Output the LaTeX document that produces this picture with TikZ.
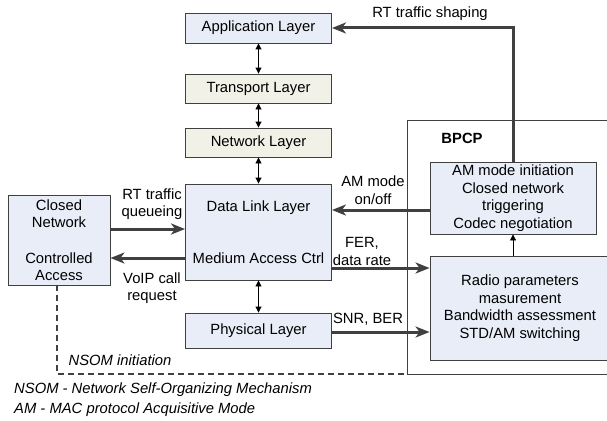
\documentclass[tikz,border=0pt]{standalone}
\usepackage{fontspec}
\setmainfont{Liberation Sans}
\usetikzlibrary{arrows.meta}
\definecolor{boxblue}{HTML}{E8EDF7}
\definecolor{boxbeige}{HTML}{F1F1E8}
\definecolor{linegray}{HTML}{404040}
\tikzset{
  layerbox/.style={draw=linegray, line width=0.9pt, fill=boxblue, minimum width=146pt, inner sep=0pt, align=center},
  bigarrow/.style={draw=linegray, line width=3pt, -{Stealth[length=14pt,width=11pt,inset=4pt]}},
  dblarrow/.style={draw=black, line width=0.9pt, {Triangle[length=6pt,width=6pt]}-{Triangle[length=6pt,width=6pt]}},
  onearrow/.style={draw=black, line width=0.9pt, -{Triangle[length=6pt,width=6pt]}},
  lbl/.style={align=center, inner sep=0pt},
  nsomline/.style={draw=linegray, line width=1.2pt, dash pattern=on 6pt off 4pt},
  frame/.style={draw=linegray, line width=0.9pt}
}
\begin{document}
\begin{tikzpicture}[x=1pt, y=-1pt, font=\fontsize{14.8}{17.5}\selectfont]
\clip (0,0) rectangle (607,420);
\fill[white] (0,0) rectangle (607,420);
% BPCP frame
\coordinate (bpcpTR) at (612,120);
\coordinate (bpcpTL) at (407,120);
\coordinate (bpcpBL) at (407,374);
\coordinate (bpcpBR) at (612,374);
\draw[frame] (bpcpTR) -- (bpcpTL) -- (bpcpBL) -- (bpcpBR);
\node[lbl, font=\fontsize{14.8}{17.5}\selectfont\bfseries] (bpcp) at (462,138) {BPCP};
% layers
\node[layerbox, minimum height=30pt] (app) at (258.5,28) {Application Layer};
\node[layerbox, fill=boxbeige, minimum height=29pt] (tr) at (258.5,88.5) {Transport Layer};
\node[layerbox, fill=boxbeige, minimum height=29pt] (net) at (258.5,142.5) {Network Layer};
\node[layerbox, minimum height=96pt] (dll) at (258.5,232) {Data Link Layer\\[35pt]Medium Access Ctrl};
\node[layerbox, minimum height=35pt] (phy) at (258.5,330.5) {Physical Layer};
\node[layerbox, minimum width=102pt, minimum height=90pt] (cn) at (59,240) {Closed\\Network\\[18pt]Controlled\\Access};
\node[layerbox, minimum width=166pt, minimum height=72pt] (am) at (513,198) {AM mode initiation\\Closed network\\triggering\\Codec negotiation};
\node[layerbox, minimum width=180pt, minimum height=104pt] (radio) at (520,308) {Radio parameters\\masurement\\Bandwidth assessment\\STD/AM switching};
% double arrows
\draw[dblarrow] (app.south) -- (tr.north);
\draw[dblarrow] (tr.south) -- (net.north);
\draw[dblarrow] (net.south) -- (dll.north);
\draw[dblarrow] (dll.south) -- (phy.north);
% thick arrows
\draw[bigarrow] (am.north) |- (app.east);
\draw[bigarrow] ([yshift=-12pt]am.west) -- ([yshift=-12pt]am.west -| dll.east);
\draw[bigarrow] ([yshift=-36pt]dll.east) -- ([yshift=-36pt]dll.east -| radio.west);
\draw[bigarrow] ([yshift=-1.5pt]phy.east) -- ([yshift=-1.5pt]phy.east -| radio.west);
\draw[bigarrow] ([yshift=11pt]cn.east) -- ([yshift=11pt]cn.east -| dll.west);
\draw[bigarrow] ([yshift=-26pt]dll.west) -- ([yshift=-26pt]dll.west -| cn.east);
\draw[onearrow] (radio.north -| am.north) -- (am.south);
% dashed NSOM line
\draw[nsomline] ([xshift=-2pt]cn.south) |- (bpcpBL);
% labels
\node[lbl] (l1) at (430,14) {RT traffic shaping};
\node[lbl] (l2) at (373,190) {AM mode\\on/off};
\node[lbl] (l3) at (362,251.5) {FER,\\data rate};
\node[lbl] (l4) at (368,319) {SNR, BER};
\node[lbl] (l5) at (152,204) {RT traffic\\queueing};
\node[lbl] (l6) at (152,288) {VoIP call\\request};
\node[lbl, font=\fontsize{14.8}{17.5}\selectfont\itshape] (l7) at (120,360) {NSOM initiation};
\node[lbl, anchor=west, font=\fontsize{14.8}{17.5}\selectfont\itshape] (f1) at (14,390) {NSOM - Network Self-Organizing Mechanism};
\node[lbl, anchor=west, font=\fontsize{14.8}{17.5}\selectfont\itshape] (f2) at (14,410) {AM - MAC protocol Acquisitive Mode};
\end{tikzpicture}
\end{document}
